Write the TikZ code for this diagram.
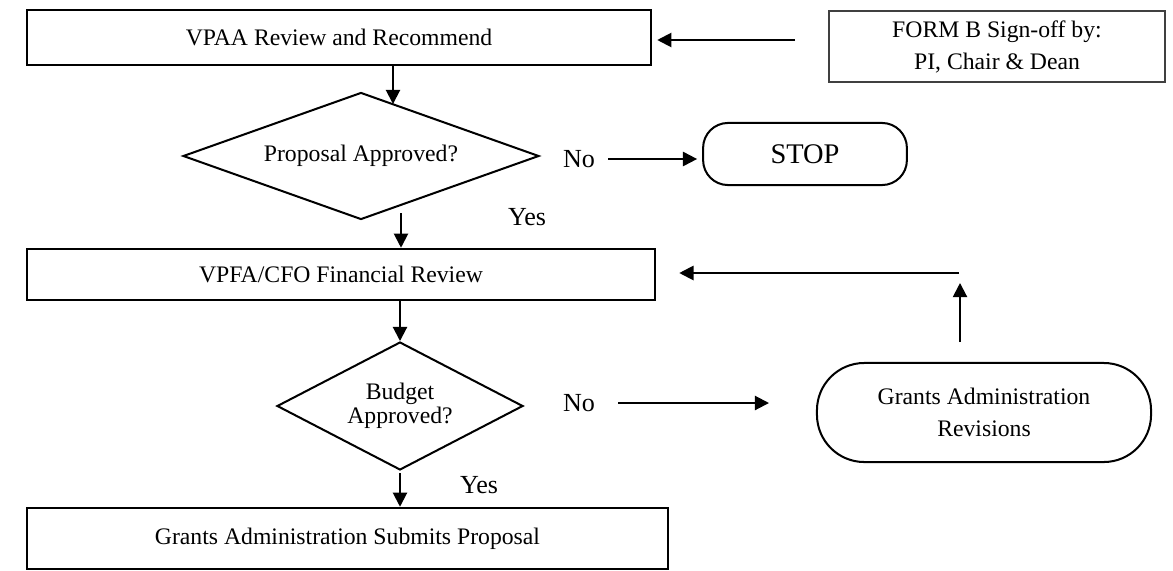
\documentclass[tikz,border=0pt]{standalone}
\usepackage{fontspec}
\setmainfont{Liberation Serif}
\usetikzlibrary{shapes.geometric,arrows.meta}

\tikzset{
  box/.style={draw,line width=1.1pt,inner sep=0pt},
  formbox/.style={draw=black!75,line width=0.55pt,inner sep=0pt,align=center,font=\fontsize{10}{13.5}\selectfont},
  decide/.style={draw,diamond,line width=0.85pt,inner sep=0pt,align=center},
  endbox/.style={draw,line width=0.85pt,inner sep=0pt,align=center},
  flowarrow/.style={line width=0.85pt,-{Triangle[length=6pt,width=6pt]}},
  answer/.style={font=\fontsize{11}{13}\selectfont,inner sep=0pt}
}

\begin{document}
\begin{tikzpicture}[x=0.422pt,y=-0.422pt,font=\fontsize{10}{12}\selectfont]
\useasboundingbox (0,0) rectangle (1173,570);
%top row
\node[box,minimum width=263.3pt,minimum height=23.2pt] (vpaa) at (339,37.5) {VPAA Review and Recommend};
\node[formbox,minimum width=141.8pt,minimum height=30pt] (formb) at (997,46.5) {FORM B Sign-off by:\\PI, Chair \& Dean};
%proposal check
\node[decide,aspect=2.8,minimum width=150.2pt,minimum height=53.6pt] (propok) at (361,156) {Proposal Approved?};
\node[answer] (no1) at (579,159) {No};
\node[endbox,rounded corners=10.5pt,minimum width=86pt,minimum height=26.2pt,font=\fontsize{12}{14}\selectfont] (stop) at (805,154) {STOP};
\node[answer] (yes1) at (527,217) {Yes};
%financial review
\node[box,minimum width=265pt,minimum height=21.5pt] (vpfa) at (341,274.5) {VPFA/CFO Financial Review};
\node[decide,aspect=1.9,minimum width=103.8pt,minimum height=54pt,font=\fontsize{10}{10}\selectfont] (budgetok) at (400,406) {Budget\\Approved?};
\node[answer] (no2) at (579,403) {No};
\node[endbox,rounded corners=20pt,minimum width=141pt,minimum height=41.8pt,font=\fontsize{10}{13.5}\selectfont] (revis) at (984,412.5) {Grants Administration\\Revisions};
\node[answer] (yes2) at (479,485) {Yes};
%submit
\node[box,minimum width=270.5pt,minimum height=25.7pt] (submit) at (347.5,538.5) {Grants Administration Submits Proposal};

%free ends
\coordinate (formtail) at (795,40);
\coordinate (drop1) at (393,104);
\coordinate (drop2) at (401,213);
\coordinate (rise) at (960,283);
\coordinate (back) at (959,273);

%arrows
\draw[flowarrow,shorten >=2.1pt] (formtail) -- (formtail -| vpaa.east);
\draw[flowarrow] (drop1 |- vpaa.south) -- (drop1);
\draw[flowarrow,shorten <=5.5pt,shorten >=2.1pt] (no1.east) -- (no1.east -| stop.west);
\draw[flowarrow] (drop2) -- (drop2 |- vpfa.north);
\draw[flowarrow] (vpfa.south -| budgetok.north) -- (budgetok.north);
\draw[flowarrow,shorten <=9.7pt,shorten >=19.8pt] (no2.east) -- (no2.east -| revis.west);
\draw[flowarrow,shorten <=8.4pt] (revis.north -| rise) -- (rise);
\draw[flowarrow,shorten >=9.7pt] (back) -- (back -| vpfa.east);
\draw[flowarrow,shorten <=1pt] (budgetok.south) -- (budgetok.south |- submit.north);
\end{tikzpicture}
\end{document}
